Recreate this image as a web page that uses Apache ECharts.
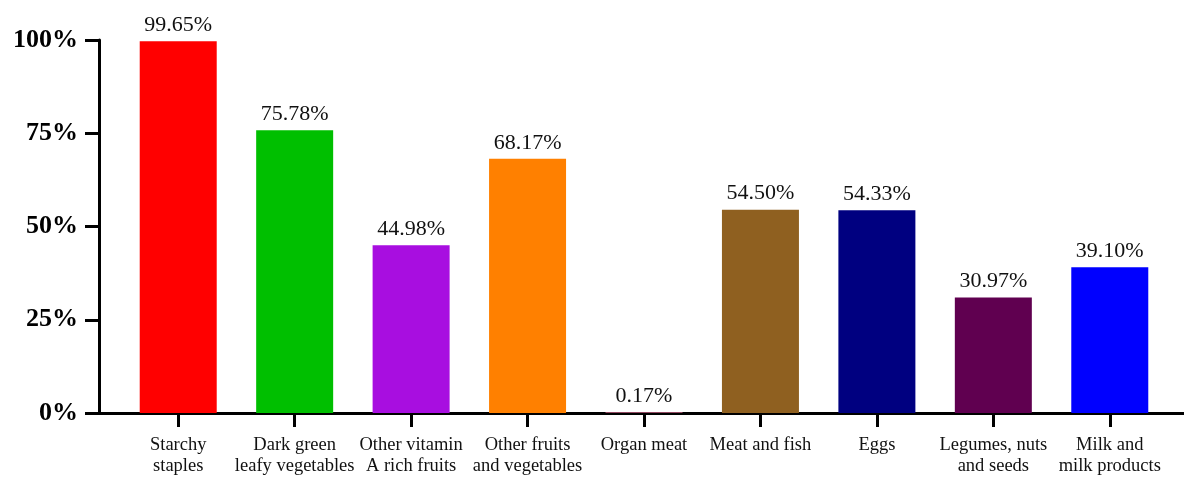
<!DOCTYPE html>
<html>
<head>
<meta charset="utf-8">
<script src="https://cdn.jsdelivr.net/npm/echarts@6/dist/echarts.min.js"></script>
<style>
  html, body { margin: 0; padding: 0; background: #fff; }
  #chart { width: 1184px; height: 477px; }
</style>
</head>
<body>
<div id="chart"></div>
<script>
const categories = [
  'Starchy\nstaples',
  'Dark green\nleafy vegetables',
  'Other vitamin\nA rich fruits',
  'Other fruits\nand vegetables',
  'Organ meat',
  'Meat and fish',
  'Eggs',
  'Legumes, nuts\nand seeds',
  'Milk and\nmilk products',
];
const values = [99.65, 75.78, 44.98, 68.17, 0.17, 54.5, 54.33, 30.97, 39.1];
const barColors = ['#ff0000', '#00bf00', '#a80ee0', '#ff8000', '#c06080', '#8f6020', '#000080', '#600050', '#0000ff'];
const yTicks = [0, 25, 50, 75, 100];

const serif = '"Liberation Serif", "Times New Roman", serif';
const axisColor = '#000';

const chart = echarts.init(document.getElementById('chart'));

const option = {
  backgroundColor: '#fff',
  animation: false,
  grid: [
    { left: 120, right: 16, top: 40, bottom: 64 },
    { left: 99, right: 0, top: 40, bottom: 64 },
  ],
  xAxis: [
    {
      type: 'category',
      gridIndex: 0,
      data: categories,
      axisLine: { show: false },
      axisTick: { show: true, alignWithLabel: true, length: 14, lineStyle: { color: axisColor, width: 3 } },
      axisLabel: { color: '#111', fontFamily: serif, fontSize: 18.5, lineHeight: 21, margin: 22, interval: 0 },
    },
    {
      type: 'value',
      gridIndex: 1,
      min: 0,
      max: 1,
      axisLine: { show: true, lineStyle: { color: axisColor, width: 3 } },
      axisTick: { show: false },
      axisLabel: { show: false },
      splitLine: { show: false },
    },
  ],
  yAxis: [
    {
      type: 'value',
      gridIndex: 0,
      min: 0,
      max: 100,
      show: false,
    },
    {
      type: 'value',
      gridIndex: 1,
      min: yTicks[0],
      max: yTicks[yTicks.length - 1],
      interval: 25,
      axisLine: { show: true, lineStyle: { color: axisColor, width: 3 } },
      axisTick: { show: true, length: 14, lineStyle: { color: axisColor, width: 3 } },
      axisLabel: {
        color: '#000',
        fontFamily: serif,
        fontWeight: 'bold',
        fontSize: 26,
        margin: 21,
        formatter: (v) => v + '%',
      },
      splitLine: { show: false },
    },
  ],
  series: [
    {
      type: 'bar',
      xAxisIndex: 0,
      yAxisIndex: 0,
      barWidth: 77,
      data: values.map((v, i) => ({ value: v, itemStyle: { color: barColors[i] } })),
      label: {
        show: true,
        position: 'top',
        distance: 5,
        color: '#111',
        fontFamily: serif,
        fontSize: 22,
        formatter: (p) => p.value.toFixed(2) + '%',
      },
    },
  ],
};

chart.setOption(option);
</script>
</body>
</html>
